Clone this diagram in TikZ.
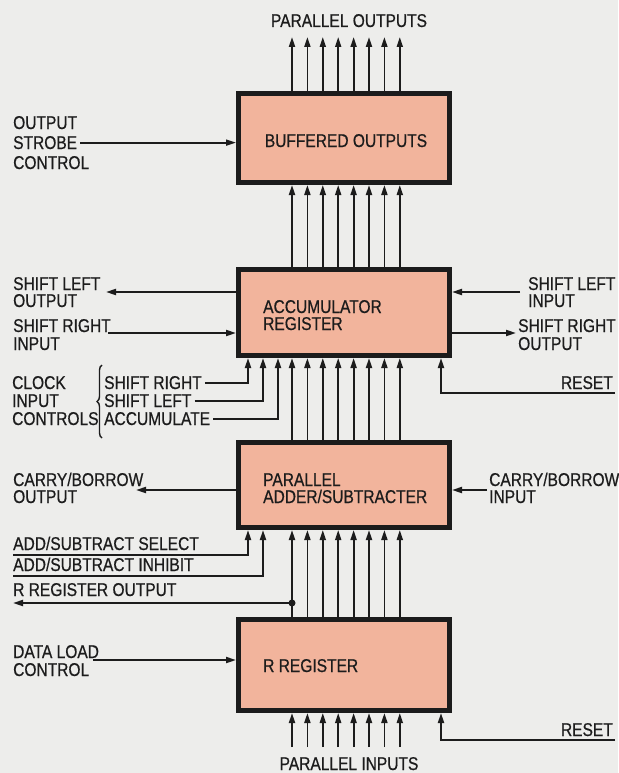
\documentclass[tikz,border=0pt]{standalone}
\usepackage{fontspec}
\setmainfont{Liberation Sans}[FakeStretch=0.84,FakeBold=0.6]
\usetikzlibrary{arrows.meta,calc,decorations.pathreplacing}
\definecolor{bg}{HTML}{EDEDEB}
\definecolor{boxfill}{HTML}{F2B49C}
\definecolor{ink}{HTML}{1C1C1C}
\begin{document}
\begin{tikzpicture}[x=1pt,y=-1pt,
  blk/.style={draw=ink,line width=5pt,fill=boxfill,minimum width=211pt,inner sep=0pt},
  lbl/.style={font=\fontsize{18.5}{20}\selectfont,text=ink,inner sep=0pt},
  wire/.style={draw=ink,line width=1.8pt},
  arr/.style={wire,-{Triangle[length=10pt,width=6pt]}},
  brc/.style={draw=ink,line width=1.4pt,decorate,decoration={brace,amplitude=5pt}}
  ]
\useasboundingbox (0,0) rectangle (618,773);
\fill[bg] (0,0) rectangle (618,773);

% blocks
\node[blk,minimum height=89pt] (buf) at (344,138) {};
\node[blk,minimum height=86pt] (acc) at (344,312.5) {};
\node[blk,minimum height=85pt] (add) at (344,485) {};
\node[blk,minimum height=91pt] (rreg) at (344,665) {};

% block texts
\node[lbl,anchor=base] (buft) at (346,147) {BUFFERED OUTPUTS};
\node[lbl,anchor=base west] (acct1) at (263,313) {ACCUMULATOR};
\node[lbl,anchor=base west] (acct2) at (263,330) {REGISTER};
\node[lbl,anchor=base west] (addt1) at (263,486) {PARALLEL};
\node[lbl,anchor=base west] (addt2) at (263,503) {ADDER/SUBTRACTER};
\node[lbl,anchor=base west] (rregt) at (263,672) {R REGISTER};

% top / bottom labels
\node[lbl,anchor=base] (po) at (349,27) {PARALLEL OUTPUTS};
\node[lbl,anchor=base] (pi) at (349,770) {PARALLEL INPUTS};

% left labels
\node[lbl,anchor=base west] (os1) at (13,129) {OUTPUT};
\node[lbl,anchor=base west] (os2) at (13,149) {STROBE};
\node[lbl,anchor=base west] (os3) at (13,169) {CONTROL};
\node[lbl,anchor=base west] (slo1) at (13,290) {SHIFT LEFT};
\node[lbl,anchor=base west] (slo2) at (13,307) {OUTPUT};
\node[lbl,anchor=base west] (sri1) at (13,332) {SHIFT RIGHT};
\node[lbl,anchor=base west] (sri2) at (13,350) {INPUT};
\node[lbl,anchor=base west] (ck1) at (12,389) {CLOCK};
\node[lbl,anchor=base west] (ck2) at (12,407) {INPUT};
\node[lbl,anchor=base west] (ck3) at (12,425) {CONTROLS};
\node[lbl,anchor=base west] (csr) at (104,389) {SHIFT RIGHT};
\node[lbl,anchor=base west] (csl) at (104,407) {SHIFT LEFT};
\node[lbl,anchor=base west] (cac) at (104,425) {ACCUMULATE};
\node[lbl,anchor=base west] (cbo1) at (13,486) {CARRY/BORROW};
\node[lbl,anchor=base west] (cbo2) at (13,503) {OUTPUT};
\node[lbl,anchor=base west] (asel) at (13,550) {ADD/SUBTRACT SELECT};
\node[lbl,anchor=base west] (ainh) at (13,571) {ADD/SUBTRACT INHIBIT};
\node[lbl,anchor=base west] (rrot) at (13,596) {R REGISTER OUTPUT};
\node[lbl,anchor=base west] (dl1) at (13,658) {DATA LOAD};
\node[lbl,anchor=base west] (dl2) at (13,676) {CONTROL};

% right labels
\node[lbl,anchor=base west] (sli1) at (528,290) {SHIFT LEFT};
\node[lbl,anchor=base west] (sli2) at (528,307) {INPUT};
\node[lbl,anchor=base west] (sro1) at (518,332) {SHIFT RIGHT};
\node[lbl,anchor=base west] (sro2) at (518,350) {OUTPUT};
\node[lbl,anchor=base east] (rst1) at (613,389) {RESET};
\node[lbl,anchor=base west] (cbi1) at (489,486) {CARRY/BORROW};
\node[lbl,anchor=base west] (cbi2) at (489,503) {INPUT};
\node[lbl,anchor=base east] (rst2) at (613,736) {RESET};

% columns
\foreach \i in {0,...,7} \coordinate (d\i) at ({292+15.4*\i},0);
\coordinate (k1) at (248,0);
\coordinate (k2) at (263,0);
\coordinate (k3) at (278,0);
\coordinate (rc) at (441,0);
\coordinate (topend) at (0,37);
\coordinate (botstart) at (0,747);

% parallel data paths
\foreach \i in {0,...,7}{
  \draw[arr] (d\i |- buf.north) -- (d\i |- topend);
  \draw[arr] (d\i |- acc.north) -- (d\i |- buf.south);
  \draw[arr] (d\i |- add.north) -- (d\i |- acc.south);
  \draw[arr] (d\i |- rreg.north) -- (d\i |- add.south);
  \draw[arr] (d\i |- botstart) -- (d\i |- rreg.south);
}

% buffered outputs control
\draw[arr] ([xshift=3pt]os2.east) -- (buf.west |- os2.east);

% accumulator side connections
\coordinate (slo) at (106,292);
\draw[arr] (acc.west |- slo) -- (slo);
\coordinate (sri) at (108,333);
\draw[arr] (sri) -- (acc.west |- sri);
\coordinate (sli) at (520,292);
\draw[arr] (sli) -- (acc.east |- sli);
\coordinate (sro) at (516,333);
\draw[arr] (acc.east |- sro) -- (sro);

% clock controls
\draw[brc] (102,438) -- (102,365);
\draw[arr] ([xshift=3pt]csr.east) -- (k1 |- csr.east) -- (k1 |- acc.south);
\draw[arr] ([xshift=3pt]csl.east) -- (k2 |- csl.east) -- (k2 |- acc.south);
\draw[arr] ([xshift=3pt]cac.east) -- (k3 |- cac.east) -- (k3 |- acc.south);

% reset accumulator
\coordinate (rs1) at (615,393);
\draw[arr] (rs1) -- (rc |- rs1) -- (rc |- acc.south);

% adder side connections
\coordinate (cbo) at (136,490);
\draw[arr] (add.west |- cbo) -- (cbo);
\coordinate (cbi) at (487,490);
\draw[arr] (cbi) -- (add.east |- cbi);
\coordinate (sel) at (13,555);
\draw[arr] (sel) -- (k1 |- sel) -- (k1 |- add.south);
\coordinate (inh) at (13,576);
\draw[arr] (inh) -- (k2 |- inh) -- (k2 |- add.south);

% R register output
\coordinate (rro) at (13,603);
\coordinate (tap) at (d0 |- rro);
\fill[ink] (tap) circle (3.5);
\draw[arr] (tap) -- (rro);

% R register control
\coordinate (dl) at (93,660);
\draw[arr] (dl) -- (rreg.west |- dl);
\coordinate (rs2) at (615,740);
\draw[arr] (rs2) -- (rc |- rs2) -- (rc |- rreg.south);
\end{tikzpicture}
\end{document}
